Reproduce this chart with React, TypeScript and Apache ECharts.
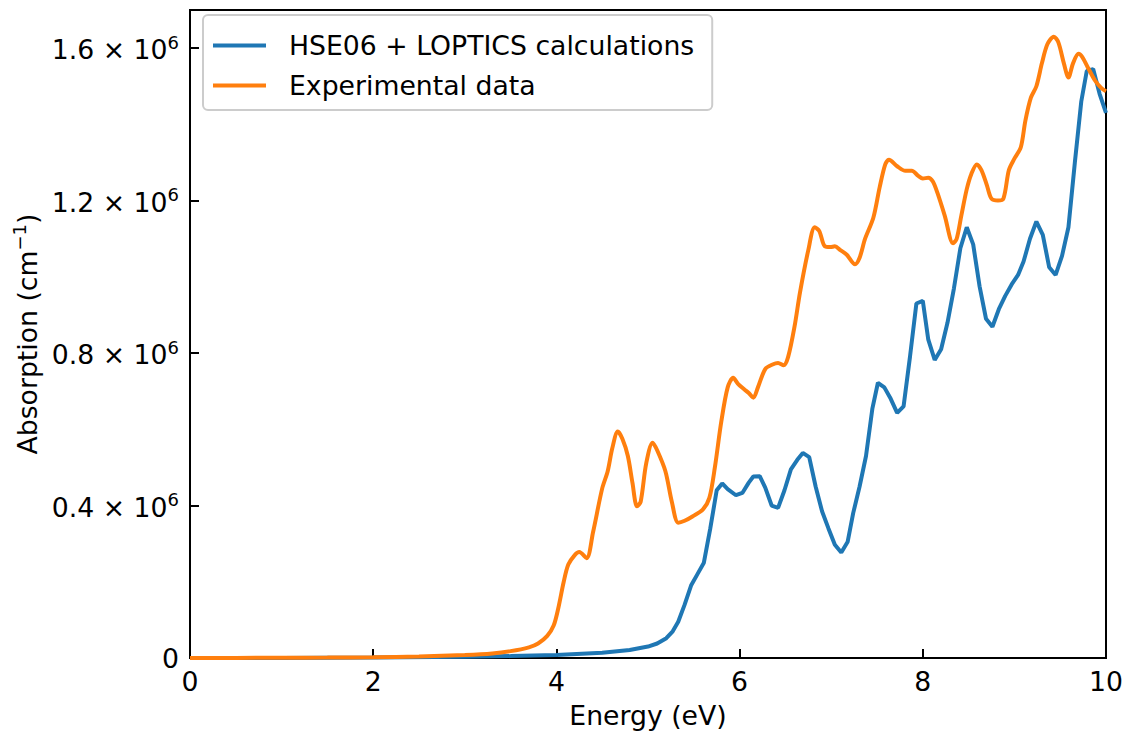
import React, { useEffect, useRef } from "react";
import * as echarts from "echarts";

// Photon energy (eV) and absorption coefficient (10^6 cm^-1)
const calcEnergy = [
  0, 1, 2, 3, 3.5, 4.0, 4.5, 4.8, 5.0, 5.1, 5.2, 5.27, 5.33, 5.4, 5.47, 5.54,
  5.61, 5.68, 5.75, 5.81, 5.87, 5.96, 6.03, 6.1, 6.15, 6.22, 6.28, 6.35, 6.42,
  6.49, 6.56, 6.63, 6.69, 6.76, 6.83, 6.9, 6.97, 7.04, 7.11, 7.18, 7.24, 7.31,
  7.38, 7.45, 7.51, 7.58, 7.65, 7.72, 7.79, 7.86, 7.93, 8.0, 8.06, 8.13, 8.2,
  8.27, 8.34, 8.41, 8.48, 8.55, 8.62, 8.69, 8.76, 8.83, 8.9, 8.97, 9.04, 9.1,
  9.17, 9.24, 9.31, 9.38, 9.45, 9.52, 9.59, 9.66, 9.73, 9.79, 9.86, 9.93, 10.0,
];
const calcAbsorption = [
  0, 0.0003, 0.001, 0.003, 0.005, 0.008, 0.014, 0.021, 0.03, 0.038, 0.052,
  0.07, 0.095, 0.14, 0.19, 0.22, 0.25, 0.34, 0.44, 0.458, 0.443, 0.427, 0.433,
  0.46, 0.476, 0.477, 0.447, 0.4, 0.394, 0.44, 0.495, 0.52, 0.538, 0.527, 0.45,
  0.385, 0.34, 0.297, 0.277, 0.305, 0.38, 0.45, 0.53, 0.655, 0.722, 0.71, 0.68,
  0.643, 0.66, 0.79, 0.93, 0.937, 0.835, 0.782, 0.81, 0.88, 0.97, 1.075, 1.13,
  1.085, 0.975, 0.89, 0.869, 0.915, 0.95, 0.98, 1.005, 1.04, 1.1, 1.145, 1.11,
  1.025, 1.005, 1.055, 1.13, 1.3, 1.46, 1.54, 1.545, 1.48, 1.43,
];

const expEnergy = [
  0, 0.5, 1.0, 1.5, 2.0, 2.5, 3.0, 3.3, 3.5, 3.7, 3.8, 3.9, 3.97, 4.02, 4.08,
  4.13, 4.2, 4.25, 4.33, 4.4, 4.5, 4.56, 4.61, 4.67, 4.72, 4.78, 4.83, 4.88,
  4.92, 4.98, 5.05, 5.1, 5.19, 5.26, 5.33, 5.4, 5.49, 5.6, 5.67, 5.73, 5.8,
  5.87, 5.93, 5.98, 6.05, 6.1, 6.15, 6.2, 6.28, 6.36, 6.42, 6.48, 6.53, 6.6,
  6.66, 6.75, 6.82, 6.87, 6.93, 6.99, 7.04, 7.1, 7.17, 7.26, 7.31, 7.37, 7.46,
  7.53, 7.59, 7.63, 7.72, 7.81, 7.88, 7.95, 8.0, 8.06, 8.11, 8.16, 8.24, 8.33,
  8.37, 8.42, 8.48, 8.53, 8.59, 8.64, 8.7, 8.75, 8.82, 8.88, 8.94, 9.0, 9.07,
  9.12, 9.18, 9.24, 9.3, 9.36, 9.43, 9.48, 9.54, 9.59, 9.64, 9.7, 9.74, 9.8,
  9.88, 9.95, 10.0,
];
const expAbsorption = [
  0, 0.0003, 0.0006, 0.001, 0.002, 0.004, 0.008, 0.012, 0.018, 0.028, 0.038,
  0.058, 0.085, 0.13, 0.2, 0.245, 0.27, 0.278, 0.262, 0.33, 0.445, 0.49, 0.55,
  0.594, 0.575, 0.53, 0.46, 0.398, 0.41, 0.51, 0.565, 0.545, 0.49, 0.41, 0.355,
  0.36, 0.372, 0.39, 0.42, 0.5, 0.62, 0.71, 0.735, 0.72, 0.705, 0.695, 0.683,
  0.71, 0.758, 0.77, 0.774, 0.768, 0.79, 0.87, 0.96, 1.07, 1.13, 1.12, 1.08,
  1.078, 1.08, 1.07, 1.058, 1.033, 1.05, 1.1, 1.155, 1.236, 1.295, 1.307, 1.29,
  1.278, 1.278, 1.265, 1.258, 1.26, 1.25, 1.22, 1.16, 1.088, 1.1, 1.16, 1.23,
  1.27, 1.295, 1.28, 1.24, 1.205, 1.2, 1.205, 1.28, 1.31, 1.34, 1.41, 1.47, 1.5,
  1.56, 1.61, 1.63, 1.615, 1.56, 1.523, 1.56, 1.585, 1.577, 1.55, 1.515, 1.495,
  1.487,
];

const seriesNames = ["HSE06 + LOPTICS calculations", "Experimental data"];
const xTicks = [0, 2, 4, 6, 8, 10];
const yTicks = [0, 0.4, 0.8, 1.2, 1.6];

const FONT = "DejaVu Sans";
const FS = 26.7;

export default function App() {
  const ref = useRef<HTMLDivElement>(null);

  useEffect(() => {
    if (!ref.current) return;
    const chart = echarts.init(ref.current, null, { renderer: "svg" });

    const calcData = calcEnergy.map((x, i) => [x, calcAbsorption[i]]);
    const expData = expEnergy.map((x, i) => [x, expAbsorption[i]]);

    const isTick = (v: number, ticks: number[]) =>
      ticks.some((t) => Math.abs(t - v) < 1e-6);

    chart.setOption({
      animation: false,
      backgroundColor: "#ffffff",
      grid: {
        left: 190,
        top: 10,
        width: 916,
        height: 648,
        show: true,
        borderColor: "#000",
        borderWidth: 2,
        containLabel: false,
      },
      legend: {
        orient: "vertical",
        left: 203,
        top: 15,
        icon: "rect",
        itemWidth: 53,
        itemHeight: 4,
        itemGap: 13,
        padding: [17, 18, 11, 10],
        borderColor: "#cccccc",
        borderWidth: 2,
        borderRadius: 5,
        backgroundColor: "#ffffff",
        data: seriesNames,
        textStyle: {
          fontFamily: FONT,
          fontSize: FS,
          color: "#000",
          padding: [0, 0, 0, 18],
        },
      },
      xAxis: {
        type: "value",
        min: 0,
        max: 10,
        interval: 2,
        name: "Energy (eV)",
        nameLocation: "middle",
        nameGap: 44,
        nameTextStyle: { fontFamily: FONT, fontSize: FS, color: "#000" },
        axisLine: { show: true, lineStyle: { color: "#000", width: 2 } },
        axisTick: {
          show: true,
          inside: true,
          length: 9,
          lineStyle: { color: "#000", width: 2 },
        },
        axisLabel: {
          margin: 10,
          fontFamily: FONT,
          fontSize: FS,
          color: "#000",
          formatter: (v: number) => (isTick(v, xTicks) ? String(v) : ""),
        },
        splitLine: { show: false },
      },
      yAxis: {
        type: "value",
        min: 0,
        max: 1.7,
        interval: 0.4,
        name: "{a|Absorption (cm}{s|−1}{a|)}",
        nameLocation: "middle",
        nameRotate: 90,
        nameGap: 146,
        nameTextStyle: {
          rich: {
            a: { fontFamily: FONT, fontSize: FS, color: "#000", verticalAlign: "bottom" },
            s: {
              fontFamily: FONT,
              fontSize: 18,
              color: "#000",
              verticalAlign: "top",
              padding: [0, 0, 12, 0],
            },
          },
        },
        axisLine: { show: true, lineStyle: { color: "#000", width: 2 } },
        axisTick: {
          show: true,
          inside: true,
          length: 9,
          lineStyle: { color: "#000", width: 2 },
        },
        axisLabel: {
          margin: 11,
          formatter: (v: number) => {
            if (!isTick(v, yTicks)) return "";
            if (Math.abs(v) < 1e-9) return "{m|0}";
            return `{m|${v.toFixed(1)} × 10}{s|6}`;
          },
          rich: {
            m: { fontFamily: FONT, fontSize: FS, color: "#000", verticalAlign: "bottom" },
            s: {
              fontFamily: FONT,
              fontSize: 18,
              color: "#000",
              verticalAlign: "top",
              padding: [0, 0, 12, 0],
            },
          },
        },
        splitLine: { show: false },
      },
      series: [
        {
          name: seriesNames[0],
          type: "line",
          data: calcData,
          symbol: "none",
          showSymbol: false,
          lineStyle: { color: "#1f77b4", width: 4 },
          itemStyle: { color: "#1f77b4" },
          z: 2,
        },
        {
          name: seriesNames[1],
          type: "line",
          data: expData,
          symbol: "none",
          showSymbol: false,
          smooth: 0.3,
          lineStyle: { color: "#ff7f0e", width: 4 },
          itemStyle: { color: "#ff7f0e" },
          z: 3,
        },
      ],
    });

    return () => chart.dispose();
  }, []);

  return (
    <div
      ref={ref}
      style={{ position: "absolute", left: 0, top: 0, width: 1133, height: 736 }}
    />
  );
}
